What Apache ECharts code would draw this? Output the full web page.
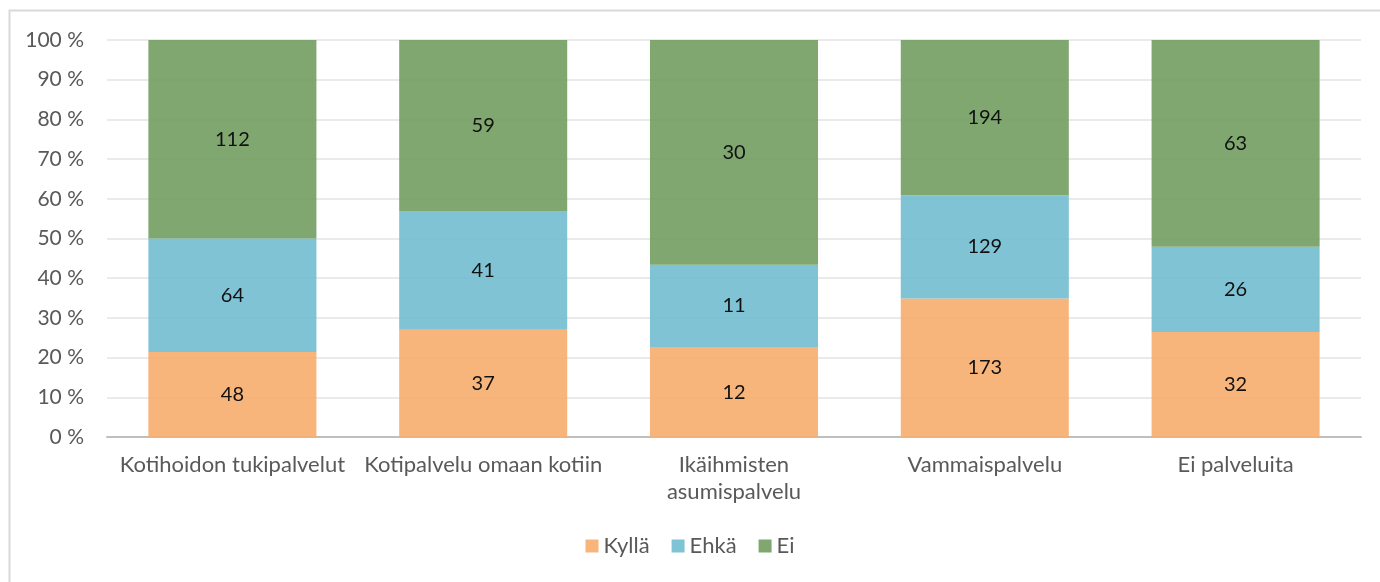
<!DOCTYPE html>
<html>
<head>
<meta charset="utf-8">
<script src="https://cdn.jsdelivr.net/npm/echarts@6/dist/echarts.min.js"></script>
<style>
  html, body { margin: 0; padding: 0; background: #fff; }
  #chart { width: 1380px; height: 582px; }
</style>
</head>
<body>
<div id="chart"></div>
<script>
  // categories and answer counts
  var categories = ['Kotihoidon tukipalvelut', 'Kotipalvelu omaan kotiin', 'Ikäihmisten\nasumispalvelu', 'Vammaispalvelu', 'Ei palveluita']
  var seriesNames = ['Kyllä', 'Ehkä', 'Ei']
  var kylla = [48, 37, 12, 173, 32]
  var ehka = [64, 41, 11, 129, 26]
  var ei = [112, 59, 30, 194, 63]
  var yTicks = [0, 10, 20, 30, 40, 50, 60, 70, 80, 90, 100]

  var colors = ['rgba(246,173,110,0.9)', 'rgba(113,189,208,0.9)', 'rgba(114,157,96,0.9)']
  var font = 'Lato'

  var counts = [kylla, ehka, ei]
  var totals = categories.map(function (c, i) { return kylla[i] + ehka[i] + ei[i] })

  var chart = echarts.init(document.getElementById('chart'))

  var series = counts.map(function (arr, s) {
    return {
      name: seriesNames[s],
      type: 'bar',
      stack: 'total',
      barCategoryGap: '33%',
      itemStyle: { color: colors[s] },
      data: arr.map(function (v, i) { return { value: v / totals[i] * 100, count: v } }),
      label: {
        show: true,
        position: 'inside',
        color: '#111',
        fontFamily: font,
        fontSize: 20,
        formatter: function (p) { return p.data.count }
      }
    }
  })

  chart.setOption({
    textStyle: { fontFamily: font },
    graphic: [{
      type: 'rect',
      shape: { x: 9.5, y: 10.5, width: 1400, height: 620 },
      style: { fill: 'none', stroke: '#D9D9D9', lineWidth: 2 },
      silent: true
    }],
    legend: {
      bottom: 20,
      left: 'center',
      itemWidth: 13,
      itemHeight: 13,
      itemGap: 22,
      icon: 'rect',
      textStyle: { color: '#595959', fontSize: 22, fontFamily: font },
      data: seriesNames
    },
    grid: { left: 107, right: 19, top: 40, bottom: 145 },
    xAxis: {
      type: 'category',
      data: categories,
      axisTick: { show: false },
      axisLine: { lineStyle: { color: '#BFBFBF', width: 2 } },
      axisLabel: {
        color: '#595959',
        fontSize: 22,
        fontFamily: font,
        margin: 14,
        lineHeight: 27,
        interval: 0
      }
    },
    yAxis: {
      type: 'value',
      min: 0,
      max: 100,
      interval: 10,
      axisLine: { show: false },
      axisTick: { show: false },
      splitLine: { lineStyle: { color: '#E3E3E3', width: 1.5 } },
      axisLabel: {
        color: '#595959',
        fontSize: 21,
        fontFamily: font,
        margin: 23,
        formatter: function (v) { return yTicks.indexOf(v) >= 0 ? v + ' %' : '' }
      }
    },
    series: series
  })
</script>
</body>
</html>
